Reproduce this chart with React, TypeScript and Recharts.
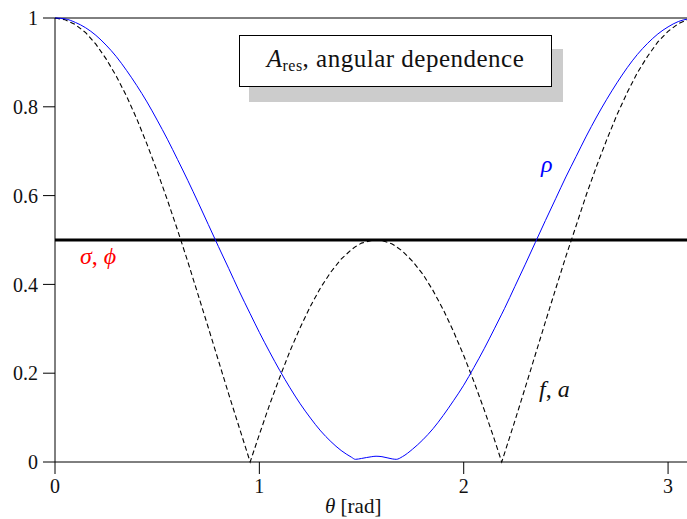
import React from 'react';
import { LineChart, Line, XAxis, YAxis, ReferenceLine } from 'recharts';

// polar angle samples (rad), denser around the cusps and the flat bottom
const theta = [
    0, 0.05, 0.1, 0.15, 0.2, 0.25, 0.3, 0.35, 0.4, 0.45, 0.5, 0.55, 0.6, 0.65, 0.7, 0.75, 0.8, 0.85, 0.9, 0.955,
    1.0, 1.05, 1.1, 1.15, 1.2, 1.25, 1.3, 1.35, 1.4, 1.45, 1.47, 1.5, 1.55, 1.571, 1.6, 1.65, 1.67, 1.7, 1.75,
    1.8, 1.85, 1.9, 1.95, 2.0, 2.05, 2.1, 2.15, 2.186, 2.2, 2.25, 2.3, 2.35, 2.4, 2.45, 2.5, 2.55, 2.6, 2.65,
    2.7, 2.75, 2.8, 2.85, 2.9, 2.95, 3.0, 3.05, 3.1, 3.1416
];

// rho
const rho = [
    1.000, 0.998, 0.990, 0.978, 0.961, 0.939, 0.913, 0.882, 0.848, 0.811, 0.770, 0.727, 0.681, 0.634, 0.585, 0.535, 0.485, 0.436, 0.386, 0.334,
    0.292, 0.248, 0.206, 0.167, 0.131, 0.099, 0.070, 0.046, 0.026, 0.011, 0.006, 0.008, 0.012, 0.013, 0.012, 0.007, 0.006, 0.012, 0.029,
    0.050, 0.075, 0.105, 0.138, 0.173, 0.213, 0.255, 0.300, 0.333, 0.346, 0.395, 0.444, 0.494, 0.544, 0.593, 0.642, 0.688, 0.734, 0.777,
    0.817, 0.854, 0.888, 0.918, 0.943, 0.964, 0.980, 0.992, 0.998, 1.000
];

// f, a
const fa = [
    1.000, 0.996, 0.985, 0.967, 0.941, 0.908, 0.869, 0.824, 0.773, 0.716, 0.655, 0.590, 0.522, 0.451, 0.377, 0.303, 0.228, 0.153, 0.080, 0.000,
    0.062, 0.129, 0.191, 0.250, 0.303, 0.351, 0.393, 0.428, 0.457, 0.478, 0.485, 0.493, 0.499, 0.500, 0.499, 0.491, 0.485, 0.475, 0.452,
    0.423, 0.386, 0.343, 0.294, 0.240, 0.181, 0.118, 0.051, 0.000, 0.020, 0.092, 0.166, 0.241, 0.316, 0.390, 0.463, 0.532, 0.602, 0.666,
    0.726, 0.782, 0.832, 0.877, 0.914, 0.946, 0.970, 0.987, 0.997, 1.000
];

// sigma, phi are flat
const sigmaPhi = 0.5;

const xTicks = [0, 1, 2, 3];
const yTicks = [0, 0.2, 0.4, 0.6, 0.8, 1];

const data = theta.map((t, i) => ({ theta: t, rho: rho[i], fa: fa[i] }));

const FONT = 'Liberation Serif';
const tickStyle = { fill: '#111', fontSize: 20, fontFamily: FONT };

const label = (left: number, top: number, color: string, size = 23): React.CSSProperties => ({
    position: 'absolute',
    left,
    top,
    color,
    fontFamily: FONT,
    fontSize: size,
    lineHeight: 1,
    whiteSpace: 'nowrap'
});

const App: React.FC = () => {
    return (
        <div style={{ position: 'absolute', left: 0, top: 0, width: 687, height: 519, overflow: 'hidden', background: 'white' }}>
            <LineChart width={697} height={519} data={data} margin={{ top: 18, right: 0, left: 0, bottom: 0 }}>
                <XAxis
                    dataKey="theta"
                    type="number"
                    domain={[0, Math.PI]}
                    ticks={xTicks}
                    allowDataOverflow
                    height={57}
                    tickSize={12}
                    tickMargin={5}
                    tick={tickStyle}
                    stroke="#000"
                />
                <YAxis
                    type="number"
                    domain={[0, 1]}
                    ticks={yTicks}
                    width={55}
                    tickSize={12}
                    tickMargin={5}
                    tick={tickStyle}
                    stroke="#000"
                />
                <ReferenceLine y={1} stroke="#000" strokeWidth={1} />
                <ReferenceLine y={sigmaPhi} stroke="#000" strokeWidth={3} />
                <Line
                    type="linear"
                    dataKey="fa"
                    stroke="#000"
                    strokeWidth={1.1}
                    strokeDasharray="5 3"
                    dot={false}
                    isAnimationActive={false}
                />
                <Line
                    type="monotone"
                    dataKey="rho"
                    stroke="#0000ff"
                    strokeWidth={1}
                    dot={false}
                    isAnimationActive={false}
                />
            </LineChart>

            {/* title box with drop shadow */}
            <div style={{ position: 'absolute', left: 249, top: 49, width: 314, height: 53, background: '#cccccc' }} />
            <div style={{
                position: 'absolute', left: 239, top: 35, width: 311, height: 50,
                background: 'white', border: '1px solid #000',
                display: 'flex', alignItems: 'center', justifyContent: 'center',
                fontFamily: FONT, fontSize: 25, color: '#111', whiteSpace: 'nowrap', letterSpacing: 0.5
            }}>
                <span style={{ marginTop: -2 }}>
                    <i>A</i><sub style={{ fontSize: 16, verticalAlign: -4 }}>res</sub>, angular dependence
                </span>
            </div>

            <div style={label(541, 152, '#0000ff', 24)}><i>ρ</i></div>
            <div style={label(80, 244, '#ff0000', 24)}><i>σ</i>, <i>ϕ</i></div>
            <div style={label(539, 377, '#111', 24)}><i>f</i>, <i>a</i></div>
            <div style={label(325, 496, '#111', 21)}><i>θ</i> [rad]</div>
        </div>
    );
};

export default App;
